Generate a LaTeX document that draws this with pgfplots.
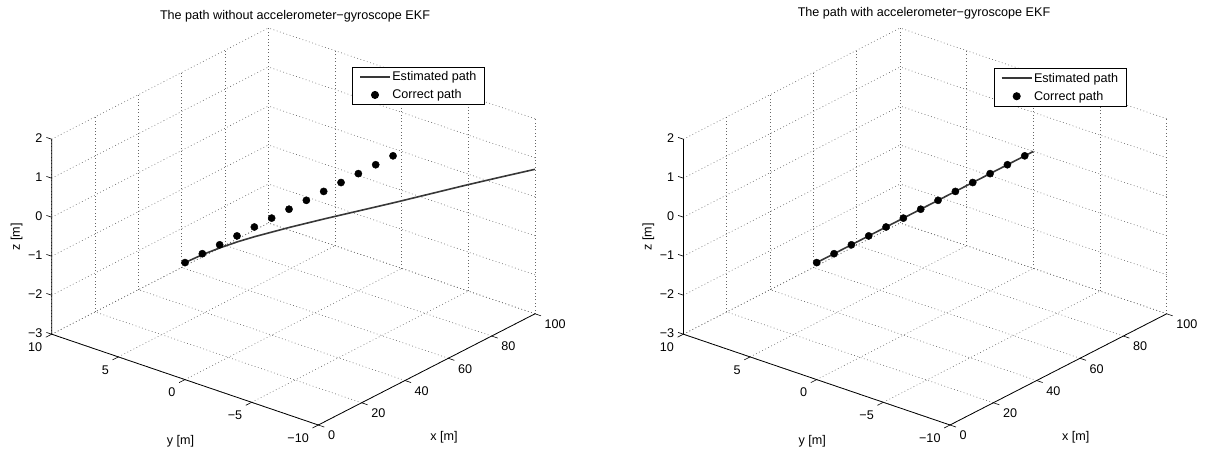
\documentclass[border=0pt]{standalone}
\usepackage{fontspec}
\setmainfont{Liberation Sans}
\usepackage{pgfplots}
\pgfplotsset{compat=1.18}
\newcommand{\matlabaxes}{%
  \draw[black, line width=0.8pt] (axis cs:0,10,2) -- (axis cs:0,10,-3) -- (axis cs:0,-10,-3) -- (axis cs:100,-10,-3);%
  \pgfplotsinvokeforeach{0,20,40,60,80,100}{\draw[black,line width=0.6pt] (axis cs:##1,-10,-3) -- (axis cs:##1,-10.45,-3);}%
  \pgfplotsinvokeforeach{-10,-5,0,5,10}{\draw[black,line width=0.6pt] (axis cs:0,##1,-3) -- (axis cs:-2.7,##1,-3);}%
  \pgfplotsinvokeforeach{-3,-2,-1,0,1,2}{\draw[black,line width=0.6pt] (axis cs:0,10,##1) -- (axis cs:0,10.4,##1);}%
}
\begin{document}
\begin{tikzpicture}[x=1pt,y=1pt]
\path[use as bounding box] (0pt,0pt) rectangle (1206pt,454pt);
\pgfplotsset{
  myaxis/.style={
    font=\fontsize{12.6}{15}\selectfont,
    x={(2.167pt,1.112pt)}, y={(-13.33pt,4.54pt)}, z={(0pt,39pt)},
    xmin=0,xmax=100,ymin=-10,ymax=10,zmin=-3,zmax=2,
    xtick={0,20,40,60,80,100}, ytick={-10,-5,0,5,10}, ztick={-3,-2,-1,0,1,2},
    xticklabels={0,20,40,60,80,100},
    yticklabels={−10,−5,0,5,10}, zticklabels={−3,−2,−1,0,1,2},
    grid=major,
    major grid style={black!60, dash pattern=on 0.8pt off 2.6pt, line width=0.6pt},
    axis line style={draw=none},
    tick style={draw=none}, major tick length=0pt,
    xticklabel style={anchor=west, inner sep=0pt, xshift=9.5pt, yshift=-10.5pt},
    yticklabel style={anchor=east, inner sep=0pt, xshift=-9.3pt, yshift=-13pt},
    zticklabel style={anchor=east, inner sep=0pt, xshift=-9pt, yshift=1.5pt},
    every axis x label/.style={at={(axis cs:50,-10,-3)}, anchor=center, inner sep=0pt, xshift=17.3pt, yshift=-68.3pt},
    every axis y label/.style={at={(axis cs:0,0,-3)}, anchor=center, inner sep=0pt, xshift=-4.5pt, yshift=-62pt},
    every axis z label/.style={at={(axis cs:0,10,-0.5)}, anchor=center, inner sep=0pt, xshift=-35pt, rotate=90},
    xlabel={x [m]}, ylabel={y [m]}, zlabel={z [m]},
    clip=false,
    legend cell align=left,
    legend image code/.code={\draw[mark repeat=2,mark phase=2,##1] plot coordinates {(0pt,0pt) (15pt,0pt) (30pt,0pt)};},
    legend style={font=\fontsize{12.6}{15}\selectfont, draw=black, line width=0.8pt, fill=white,
      inner xsep=6.5pt, inner ysep=3pt, nodes={inner sep=1.5pt}, row sep=4.4pt},
    anchor=origin,
  },
  estline/.style={black!78, line width=1.6pt, mark=none},
  dots/.style={only marks, mark=*, mark size=3.6pt, black},
}
\begin{axis}[myaxis, at={(185pt,191.4pt)},
  title={The path without accelerometer−gyroscope EKF},
  every axis title/.style={at={(axis cs:0,0,0)}, anchor=center, xshift=110pt, yshift=246pt},
  legend style={at={(axis cs:0,0,0)}, anchor=north west, xshift=167.3pt, yshift=195.9pt}]
\addplot3[estline] coordinates {
(0,0,0) (5,-0.5,0.12) (10,-1,0.21) (15,-1.5,0.28) (20,-2,0.33) (30,-3,0.40) (40,-4,0.45) (50,-5,0.49) (60,-6,0.53) (70,-7,0.58) (80,-8,0.63) (90,-9,0.67) (100,-10,0.705)};
\addlegendentry{Estimated path}
\addplot3[dots] coordinates {
(0,0,0) (8,0,0) (16,0,0) (24,0,0) (32,0,0) (40,0,0) (48,0,0) (56,0,0) (64,0,0) (72,0,0) (80,0,0) (88,0,0) (96,0,0)};
\addlegendentry{Correct path}
\matlabaxes
\end{axis}
\begin{axis}[myaxis, at={(816.7pt,191.4pt)},
  title={The path with accelerometer−gyroscope EKF},
  every axis title/.style={at={(axis cs:0,0,0)}, anchor=center, xshift=107.3pt, yshift=249.6pt},
  legend style={at={(axis cs:0,0,0)}, anchor=north west, xshift=177.3pt, yshift=194.6pt}]
\addplot3[estline] coordinates {
(0,0,0) (20,0,0) (40,0,0) (60,0,0) (80,0,0) (100,0,0)};
\addlegendentry{Estimated path}
\addplot3[dots] coordinates {
(0,0,0) (8,0,0) (16,0,0) (24,0,0) (32,0,0) (40,0,0) (48,0,0) (56,0,0) (64,0,0) (72,0,0) (80,0,0) (88,0,0) (96,0,0)};
\addlegendentry{Correct path}
\matlabaxes
\end{axis}
\end{tikzpicture}
\end{document}
